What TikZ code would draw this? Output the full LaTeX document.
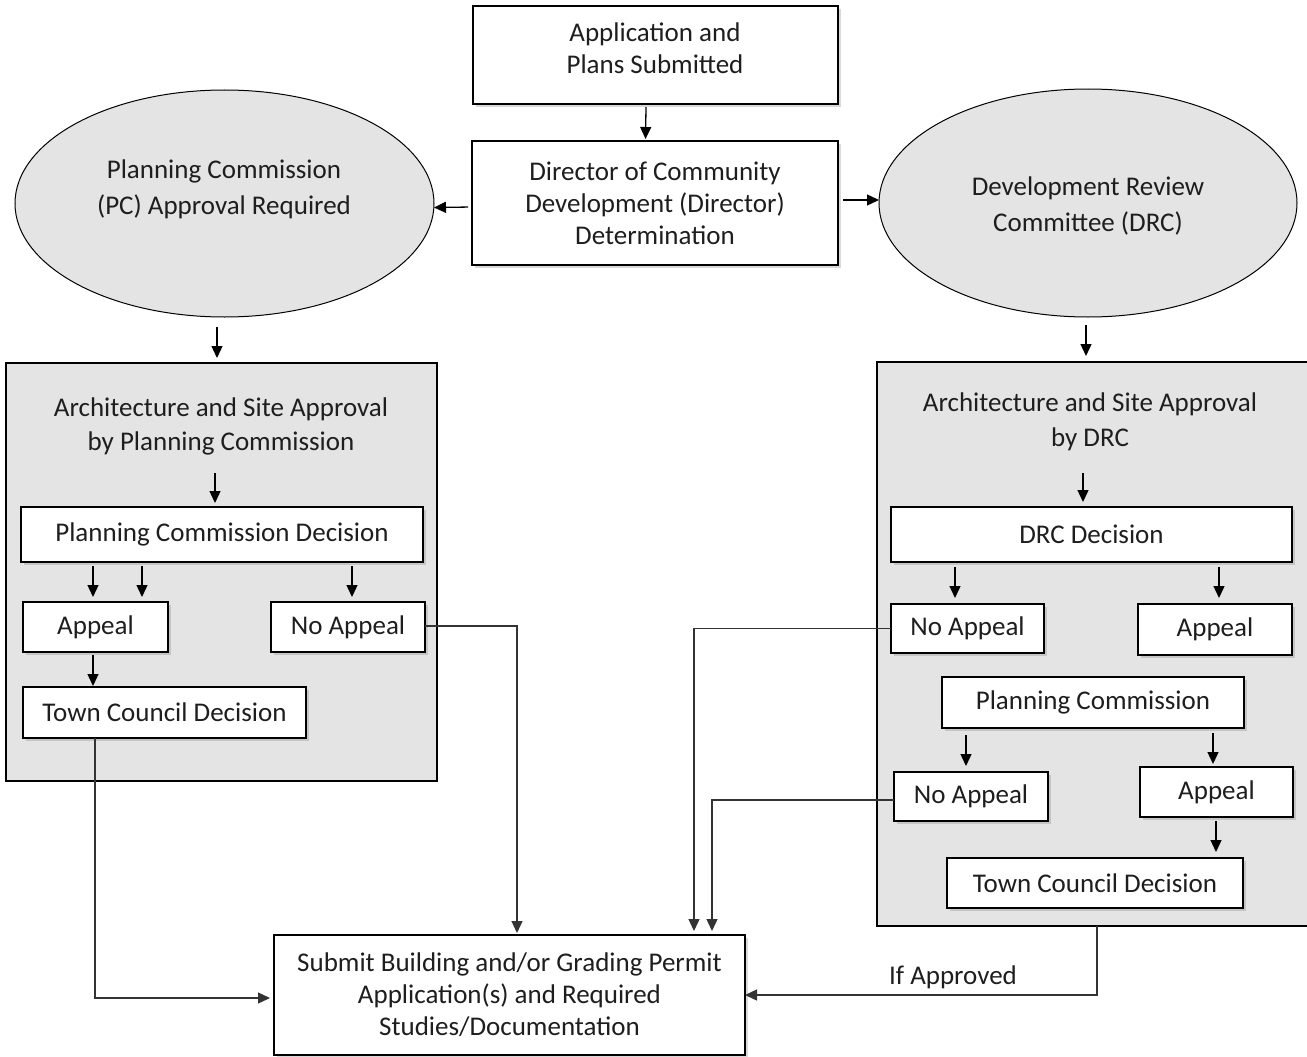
\documentclass[tikz,border=0pt]{standalone}
\usepackage{fontspec}
\setmainfont{Carlito}
\usetikzlibrary{shapes.geometric,arrows.meta,shadows}
\definecolor{grp}{HTML}{E4E4E4}
\definecolor{ink}{HTML}{1E1E1E}
\begin{document}
\begin{tikzpicture}[x=1pt,y=-1pt,
 every node/.style={font=\fontsize{27}{32}\selectfont, text=ink, align=center, inner sep=0pt, outer sep=0pt},
 box/.style={draw=black, line width=1.4pt, fill=white, drop shadow={opacity=0.3, shadow xshift=3pt, shadow yshift=-3pt}},
 grpbox/.style={draw=black, line width=1.3pt, fill=grp},
 oval/.style={ellipse, draw=black, line width=1pt, fill=grp},
 arr/.style={-{Triangle[width=11pt,length=12pt]}, line width=1.3pt, draw=black},
 conn/.style={-{Triangle[width=11pt,length=12pt]}, line width=1.4pt, draw=black!80},
]
\useasboundingbox (0,0) rectangle (1307,1057);

% top
\node[box, minimum width=365pt, minimum height=98pt] (app) at (655.5,55) {};
\node (appt) at (655,48) {Application and\\Plans Submitted};
\node[box, minimum width=366pt, minimum height=124pt] (dir) at (655,203) {Director of Community\\Development (Director)\\Determination};

% ellipses
\node[oval, minimum width=419pt, minimum height=227pt] (pc) at (224.5,203.5) {};
\node (pct) at (224,189.5) {Planning Commission\\[4pt](PC) Approval Required};
\node[oval, minimum width=418pt, minimum height=228pt] (drc) at (1088,203) {};
\node (drct) at (1088,205.5) {Development Review\\[4pt]Committee (DRC)};

% group boxes
\node[grpbox, minimum width=431pt, minimum height=418pt] (lgrp) at (221.5,572) {};
\node[grpbox, minimum width=433pt, minimum height=564pt] (rgrp) at (1093.5,644) {};
\node (lhead) at (221,426) {Architecture and Site Approval\\[2pt]by Planning Commission};
\node (rhead) at (1090,421.5) {Architecture and Site Approval\\[3pt]by DRC};

% left inner
\node[box, minimum width=402pt, minimum height=55pt] (pcd) at (222,534.5) {Planning Commission Decision};
\node[box, minimum width=145pt, minimum height=50pt] (lapp) at (95.5,627) {Appeal};
\node[box, minimum width=154pt, minimum height=50pt] (lnoapp) at (348,627) {No Appeal};
\node[box, minimum width=283pt, minimum height=51pt] (ltcd) at (164.5,712.5) {Town Council Decision};

% right inner
\node[box, minimum width=401pt, minimum height=55pt] (drcd) at (1091.5,534.5) {DRC Decision};
\node[box, minimum width=153pt, minimum height=49pt] (rnoapp1) at (967.5,628.5) {No Appeal};
\node[box, minimum width=154pt, minimum height=51pt] (rapp1) at (1215,629.5) {Appeal};
\node[box, minimum width=302pt, minimum height=51pt] (rpc) at (1093,702.5) {Planning Commission};
\node[box, minimum width=154pt, minimum height=49pt] (rnoapp2) at (971,796.5) {No Appeal};
\node[box, minimum width=153pt, minimum height=50pt] (rapp2) at (1216.5,792) {Appeal};
\node[box, minimum width=296pt, minimum height=50pt] (rtcd) at (1095,883) {Town Council Decision};

% bottom
\node[box, minimum width=471pt, minimum height=120pt] (submit) at (509.5,995) {Submit Building and/or Grading Permit\\Application(s) and Required\\Studies/Documentation};

% arrows top
\draw[arr, shorten >=2pt] ([xshift=-9.5pt,yshift=-3pt]app.south) -- ([xshift=-9.5pt]dir.north);
\draw[arr, shorten <=4pt] ([yshift=-4pt]dir.west) -- ([yshift=-4pt]pc.east);
\draw[arr, shorten <=5pt] ([yshift=3pt]dir.east) -- ([yshift=3pt]drc.west);
\draw[arr, shorten >=5pt] ([xshift=-7.5pt,yshift=-10pt]pc.south) -- ([xshift=-4.5pt]lgrp.north);
\draw[arr, shorten >=6pt] ([xshift=-2pt,yshift=-8pt]drc.south) -- ([xshift=-7.5pt]rgrp.north);

% left group arrows
\draw[arr, shorten >=4pt] ([xshift=-7pt,yshift=34pt]pcd.north) -- ([xshift=-7pt]pcd.north);
\draw[arr, shorten >=5pt] ([xshift=-129pt,yshift=-4pt]pcd.south) -- ([xshift=-2.5pt]lapp.north);
\draw[arr, shorten >=5pt] ([xshift=-80pt,yshift=-4pt]pcd.south) -- ([xshift=46.5pt]lapp.north);
\draw[arr, shorten >=5pt] ([xshift=130pt,yshift=-4pt]pcd.south) -- ([xshift=4pt]lnoapp.north);
\draw[arr, shorten >=1pt] ([xshift=-2.5pt,yshift=-3pt]lapp.south) -- ([xshift=-71.5pt]ltcd.north);

% right group arrows
\draw[arr, shorten >=5pt] ([xshift=-8.5pt,yshift=34pt]drcd.north) -- ([xshift=-8.5pt]drcd.north);
\draw[arr, shorten >=6pt] ([xshift=-136.5pt,yshift=-5pt]drcd.south) -- ([xshift=-12.5pt]rnoapp1.north);
\draw[arr, shorten >=6pt] ([xshift=127.5pt,yshift=-5pt]drcd.south) -- ([xshift=4pt]rapp1.north);
\draw[arr, shorten >=6pt] ([xshift=-127pt,yshift=-7pt]rpc.south) -- ([xshift=-5pt]rnoapp2.north);
\draw[arr, shorten >=3pt] ([xshift=120pt,yshift=-5pt]rpc.south) -- ([xshift=-3.5pt]rapp2.north);
\draw[arr, shorten >=6pt] ([xshift=-0.5pt,yshift=-4pt]rapp2.south) -- ([xshift=121pt]rtcd.north);

% connectors to submit
\draw[conn, shorten >=4pt] ([xshift=-69.5pt]ltcd.south) |- ([yshift=-3pt]submit.west);
\draw[conn, shorten >=2pt] ([yshift=1pt]lnoapp.east) -| ([xshift=7.5pt]submit.north);
\draw[conn, shorten >=4pt] (rnoapp1.west) -| ([xshift=184.5pt]submit.north);
\draw[conn, shorten >=4pt] ([yshift=-3.5pt]rnoapp2.west) -| ([xshift=202.5pt]submit.north);
\draw[conn] ([xshift=3.5pt]rgrp.south) |- (submit.east);
\node (ifap) at (953,977) {If Approved};
\end{tikzpicture}
\end{document}
